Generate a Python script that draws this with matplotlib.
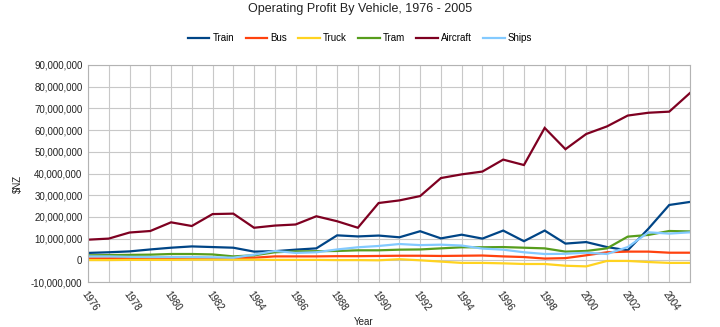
import matplotlib
matplotlib.use("Agg")
import matplotlib.pyplot as plt
from matplotlib.ticker import FuncFormatter, MultipleLocator

years = list(range(1976, 2006))

train = [3.4, 3.7, 4.1, 5.0, 5.8, 6.4, 6.1, 5.8, 4.0, 4.2, 4.9, 5.5, 11.5, 11.0,
         11.4, 10.6, 13.4, 10.1, 11.8, 10.0, 13.7, 8.8, 13.7, 7.7, 8.4, 6.1, 4.6, 14.6, 25.5, 26.9]
bus = [0.9, 0.9, 1.0, 1.0, 1.0, 1.0, 1.0, 1.0, 1.2, 1.8, 1.8, 1.8, 1.9, 1.9,
       2.0, 2.1, 2.1, 2.0, 2.1, 2.2, 1.8, 1.5, 0.8, 1.0, 2.3, 3.7, 4.0, 4.0, 3.5, 3.5]
truck = [0.1, 0.1, 0.2, 0.2, 0.2, 0.3, 0.3, 0.3, 0.3, 0.2, 0.2, 0.2, 0.1, 0.1,
         0.0, 0.5, 0.0, -0.6, -1.2, -1.2, -1.4, -1.7, -1.7, -2.5, -2.8, -0.3, -0.3, -0.8, -1.2, -1.2]
tram = [2.3, 2.4, 2.5, 2.6, 2.9, 2.9, 2.7, 1.8, 2.3, 3.7, 4.1, 4.2, 4.3, 4.6,
        4.6, 4.9, 5.0, 5.5, 6.0, 6.0, 6.1, 5.8, 5.5, 4.0, 4.3, 5.5, 10.9, 11.7, 13.5, 13.3]
aircraft = [9.5, 10.0, 12.8, 13.5, 17.5, 15.8, 21.3, 21.5, 15.0, 16.0, 16.5, 20.3, 18.0, 15.0,
            26.4, 27.6, 29.6, 37.9, 39.6, 40.9, 46.4, 43.9, 61.0, 51.2, 58.2, 61.7, 66.7, 68.0, 68.5, 77.1]
ships = [1.8, 1.8, 1.6, 1.5, 1.5, 1.5, 1.4, 1.2, 2.6, 4.3, 3.4, 3.7, 5.0, 6.0,
         6.6, 7.5, 7.0, 7.2, 6.8, 5.4, 4.9, 3.7, 2.9, 3.0, 3.5, 2.9, 6.1, 12.9, 12.3, 12.9]

series = [("Train", train, "#004586"), ("Bus", bus, "#ff420e"), ("Truck", truck, "#ffd320"),
          ("Tram", tram, "#579d1c"), ("Aircraft", aircraft, "#7e0021"), ("Ships", ships, "#83caff")]

plt.rcParams['font.family'] = ['Liberation Sans', 'DejaVu Sans']

fig = plt.figure(figsize=(7.2, 3.27), dpi=100)
ax = fig.add_axes([88/720, 1 - 282/327, (690-88)/720, (282-65)/327])

for name, vals, col in series:
    ax.plot(years, [v * 1e6 for v in vals], color=col, lw=1.6, label=name, solid_joinstyle='miter')

ax.set_xlim(1976, 2005)
ax.set_ylim(-10e6, 90e6)
ax.yaxis.set_major_locator(MultipleLocator(10e6))
ax.yaxis.set_major_formatter(FuncFormatter(lambda v, p: f"{int(round(v)):,}"))
ax.set_xticks(years, minor=True)
ax.set_xticks(years[::2])
ax.set_xticklabels([str(y) for y in years[::2]], rotation=-55, ha='left', va='top',
                   rotation_mode='anchor', fontsize=7, color='#222222')
ax.tick_params(axis='y', labelsize=7, colors='#222222', length=0, pad=4)
ax.tick_params(axis='x', which='both', length=0, pad=5)
ax.grid(True, which='both', axis='x', color='#c8c8c8', lw=0.8)
ax.grid(True, which='major', axis='y', color='#c8c8c8', lw=0.8)
ax.set_axisbelow(True)
for s in ax.spines.values():
    s.set_color('#b3b3b3')
    s.set_linewidth(0.8)

fig.text(364/720, 1 - 322/327, "Year", ha='center', va='center', fontsize=7, color='#222222')
fig.text(18/720, 1 - 184/327, "$NZ", ha='center', va='center', fontsize=7, rotation=90, color='#222222')
fig.text(360/720, 1 - 9/327, "Operating Profit By Vehicle, 1976 - 2005", ha='center', va='center',
         fontsize=9, color='#222222')

fig.legend(loc='center', bbox_to_anchor=(360/720, 1 - 38/327), ncol=6, frameon=False,
           fontsize=7, handlelength=2.2, handletextpad=0.3, columnspacing=1.2)

fig.savefig("out.png", dpi=100)
